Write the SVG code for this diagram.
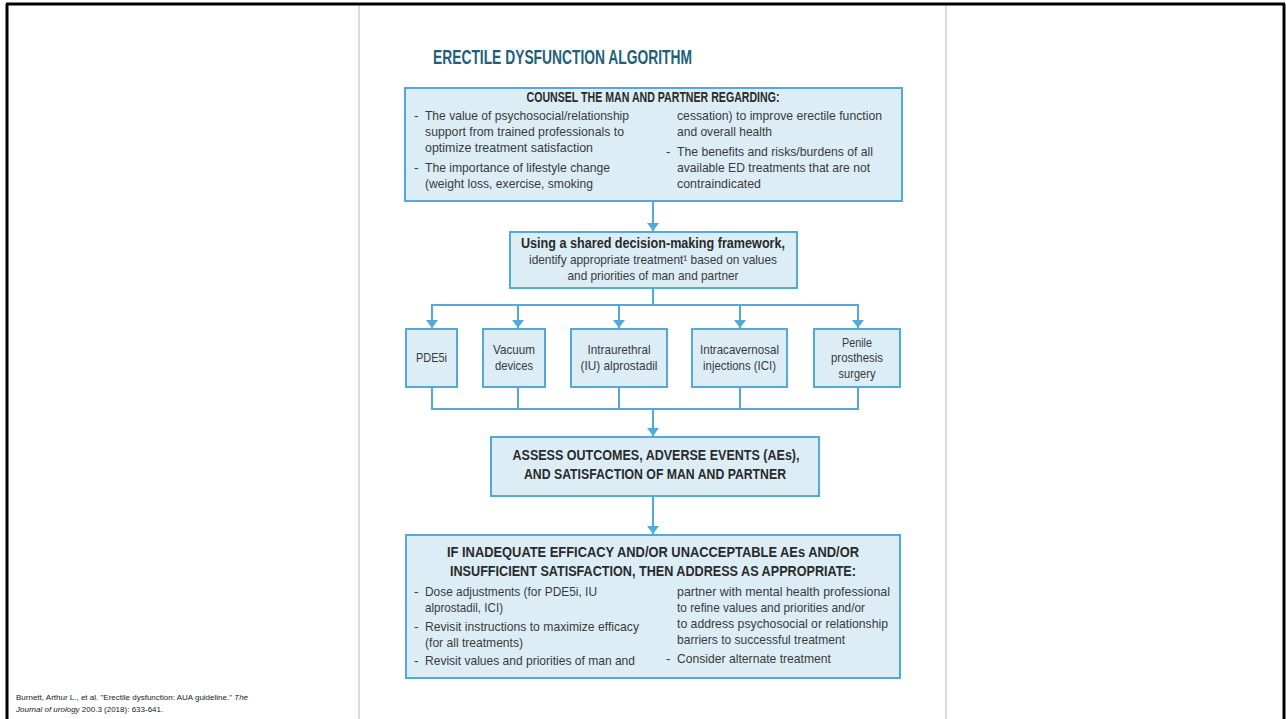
<svg xmlns="http://www.w3.org/2000/svg" width="1286" height="719" viewBox="0 0 1286 719">
<style>
.box{fill:#dcedf6;stroke:#52a9da;stroke-width:2}
.con{fill:none;stroke:#52a9da;stroke-width:2}
.t{font-family:"Liberation Sans",Arial,sans-serif;font-size:13.5px;fill:#3a3a3a}
.h{font-family:"Liberation Sans",Arial,sans-serif;font-size:14px;font-weight:bold;fill:#2a2a2a}
.c{text-anchor:middle}
.cit{font-family:"Liberation Sans",Arial,sans-serif;font-size:8px;fill:#222}
</style>
<defs>
<marker id="ah" markerUnits="userSpaceOnUse" markerWidth="9" markerHeight="13" refX="8" refY="6.5" orient="auto">
<path d="M0,0.5 L8,6.5 L0,12.5 z" fill="#52a9da"/>
</marker>
</defs>
<rect width="1286" height="719" fill="#ffffff"/>
<g id="frame">
<line x1="7" y1="4" x2="7" y2="719" stroke="#000" stroke-width="3"/>
<line x1="6" y1="4" x2="1285" y2="4" stroke="#000" stroke-width="3"/>
<line x1="1284" y1="4" x2="1284" y2="719" stroke="#000" stroke-width="3"/>
<line x1="359" y1="6" x2="359" y2="719" stroke="#cfcfcf" stroke-width="1.5"/>
<line x1="946" y1="6" x2="946" y2="719" stroke="#cfcfcf" stroke-width="1.5"/>
</g>
<g id="title">
<text x="433" y="64" font-family="Liberation Sans,Arial,sans-serif" font-size="21" font-weight="bold" fill="#1e5f7b" textLength="259" lengthAdjust="spacingAndGlyphs">ERECTILE DYSFUNCTION ALGORITHM</text>
</g>
<g id="connectors">
<line class="con" x1="653" y1="201" x2="653" y2="231" marker-end="url(#ah)"/>
<polyline class="con" points="653,288 653,305"/>
<line class="con" x1="431" y1="305" x2="859" y2="305"/>
<line class="con" x1="432" y1="305" x2="432" y2="328" marker-end="url(#ah)"/>
<line class="con" x1="518" y1="305" x2="518" y2="328" marker-end="url(#ah)"/>
<line class="con" x1="619" y1="305" x2="619" y2="328" marker-end="url(#ah)"/>
<line class="con" x1="740" y1="305" x2="740" y2="328" marker-end="url(#ah)"/>
<line class="con" x1="858" y1="305" x2="858" y2="328" marker-end="url(#ah)"/>
<polyline class="con" points="432,387 432,409 858,409 858,387"/>
<line class="con" x1="518" y1="387" x2="518" y2="409"/>
<line class="con" x1="619" y1="387" x2="619" y2="409"/>
<line class="con" x1="740" y1="387" x2="740" y2="409"/>
<line class="con" x1="653" y1="409" x2="653" y2="436" marker-end="url(#ah)"/>
<line class="con" x1="653" y1="496" x2="653" y2="534" marker-end="url(#ah)"/>
</g>
<g id="counsel">
<rect class="box" x="405" y="88" width="497" height="113"/>
<text class="h c" x="653" y="102" textLength="253" lengthAdjust="spacingAndGlyphs">COUNSEL THE MAN AND PARTNER REGARDING:</text>
<text class="t" x="414" y="120">-</text>
<text class="t" x="425" y="120" textLength="204" lengthAdjust="spacingAndGlyphs">The value of psychosocial/relationship</text>
<text class="t" x="425" y="136" textLength="199" lengthAdjust="spacingAndGlyphs">support from trained professionals to</text>
<text class="t" x="425" y="152" textLength="168" lengthAdjust="spacingAndGlyphs">optimize treatment satisfaction</text>
<text class="t" x="414" y="172">-</text>
<text class="t" x="425" y="172" textLength="185" lengthAdjust="spacingAndGlyphs">The importance of lifestyle change</text>
<text class="t" x="425" y="188" textLength="168" lengthAdjust="spacingAndGlyphs">(weight loss, exercise, smoking</text>
<text class="t" x="677" y="120" textLength="205" lengthAdjust="spacingAndGlyphs">cessation) to improve erectile function</text>
<text class="t" x="677" y="136" textLength="95" lengthAdjust="spacingAndGlyphs">and overall health</text>
<text class="t" x="666" y="156">-</text>
<text class="t" x="677" y="156" textLength="196" lengthAdjust="spacingAndGlyphs">The benefits and risks/burdens of all</text>
<text class="t" x="677" y="172" textLength="193" lengthAdjust="spacingAndGlyphs">available ED treatments that are not</text>
<text class="t" x="677" y="188" textLength="84" lengthAdjust="spacingAndGlyphs">contraindicated</text>
</g>
<g id="shared">
<rect class="box" x="510" y="232" width="287" height="56"/>
<text class="h c" x="653" y="248" font-size="13.5" textLength="264" lengthAdjust="spacingAndGlyphs">Using a shared decision-making framework,</text>
<text class="t c" x="653" y="264" textLength="248" lengthAdjust="spacingAndGlyphs">identify appropriate treatment¹ based on values</text>
<text class="t c" x="653" y="280" textLength="171" lengthAdjust="spacingAndGlyphs">and priorities of man and partner</text>
</g>
<g id="pde5i">
<rect class="box" x="406" y="329" width="51" height="58"/>
<text class="t c" x="431.5" y="362" textLength="31" lengthAdjust="spacingAndGlyphs">PDE5i</text>
</g>
<g id="vacuum">
<rect class="box" x="483" y="329" width="62" height="58"/>
<text class="t c" x="514" y="354" textLength="42" lengthAdjust="spacingAndGlyphs">Vacuum</text>
<text class="t c" x="514" y="370" textLength="38" lengthAdjust="spacingAndGlyphs">devices</text>
</g>
<g id="intraurethral">
<rect class="box" x="571" y="329" width="96" height="58"/>
<text class="t c" x="619" y="354" textLength="63" lengthAdjust="spacingAndGlyphs">Intraurethral</text>
<text class="t c" x="619" y="370" textLength="77" lengthAdjust="spacingAndGlyphs">(IU) alprostadil</text>
</g>
<g id="intracavernosal">
<rect class="box" x="692" y="329" width="95" height="58"/>
<text class="t c" x="739.5" y="354" textLength="79" lengthAdjust="spacingAndGlyphs">Intracavernosal</text>
<text class="t c" x="739.5" y="370" textLength="73" lengthAdjust="spacingAndGlyphs">injections (ICI)</text>
</g>
<g id="penile">
<rect class="box" x="814" y="329" width="86" height="58"/>
<text class="t c" x="857" y="347" textLength="30" lengthAdjust="spacingAndGlyphs">Penile</text>
<text class="t c" x="857" y="362" textLength="52" lengthAdjust="spacingAndGlyphs">prosthesis</text>
<text class="t c" x="857" y="378" textLength="37" lengthAdjust="spacingAndGlyphs">surgery</text>
</g>
<g id="assess">
<rect class="box" x="491" y="437" width="328" height="59"/>
<text class="h c" x="656" y="460" textLength="287" lengthAdjust="spacingAndGlyphs">ASSESS OUTCOMES, ADVERSE EVENTS (AEs),</text>
<text class="h c" x="655" y="479" textLength="262" lengthAdjust="spacingAndGlyphs">AND SATISFACTION OF MAN AND PARTNER</text>
</g>
<g id="address">
<rect class="box" x="406" y="535" width="494" height="143"/>
<text class="h c" x="653" y="557" font-size="15" textLength="412" lengthAdjust="spacingAndGlyphs">IF INADEQUATE EFFICACY AND/OR UNACCEPTABLE AEs AND/OR</text>
<text class="h c" x="653" y="576" font-size="15" textLength="406" lengthAdjust="spacingAndGlyphs">INSUFFICIENT SATISFACTION, THEN ADDRESS AS APPROPRIATE:</text>
<text class="t" x="414" y="596">-</text>
<text class="t" x="425" y="596" textLength="172" lengthAdjust="spacingAndGlyphs">Dose adjustments (for PDE5i, IU</text>
<text class="t" x="425" y="612" textLength="78" lengthAdjust="spacingAndGlyphs">alprostadil, ICI)</text>
<text class="t" x="414" y="631">-</text>
<text class="t" x="425" y="631" textLength="214" lengthAdjust="spacingAndGlyphs">Revisit instructions to maximize efficacy</text>
<text class="t" x="425" y="647" textLength="98" lengthAdjust="spacingAndGlyphs">(for all treatments)</text>
<text class="t" x="414" y="665">-</text>
<text class="t" x="425" y="665" textLength="210" lengthAdjust="spacingAndGlyphs">Revisit values and priorities of man and</text>
<text class="t" x="677" y="596" textLength="213" lengthAdjust="spacingAndGlyphs">partner with mental health professional</text>
<text class="t" x="677" y="612" textLength="188" lengthAdjust="spacingAndGlyphs">to refine values and priorities and/or</text>
<text class="t" x="677" y="628" textLength="211" lengthAdjust="spacingAndGlyphs">to address psychosocial or relationship</text>
<text class="t" x="677" y="644" textLength="168" lengthAdjust="spacingAndGlyphs">barriers to successful treatment</text>
<text class="t" x="666" y="663">-</text>
<text class="t" x="677" y="663" textLength="154" lengthAdjust="spacingAndGlyphs">Consider alternate treatment</text>
</g>
<g id="citation">
<text class="cit" x="16" y="700">Burnett, Arthur L., et al. "Erectile dysfunction: AUA guideline." <tspan font-style="italic">The</tspan></text>
<text class="cit" x="16" y="712"><tspan font-style="italic">Journal of urology</tspan> 200.3 (2018): 633-641.</text>
</g>
</svg>
